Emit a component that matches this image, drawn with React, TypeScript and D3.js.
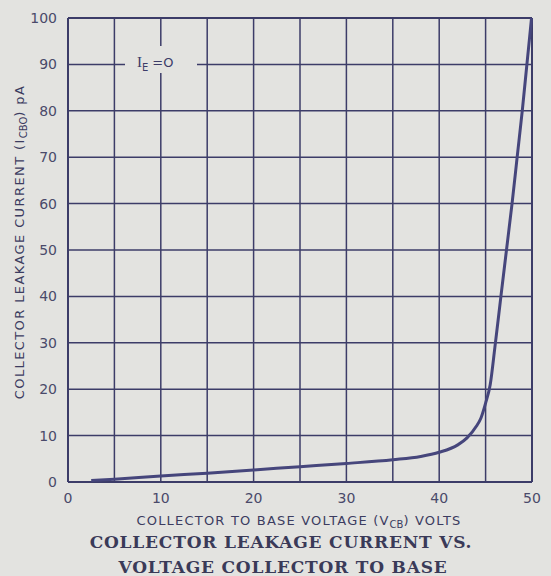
import React, { useEffect, useRef } from 'react'
import * as d3 from 'd3'

// values
const voltage = [2.5, 5, 10, 15, 20, 25, 30, 35, 38, 40, 42, 43, 44, 44.5, 45, 45.5, 46, 46.65, 47.25, 47.85, 48.4, 48.95, 49.45, 49.95]
const leakage = [0.3, 0.6, 1.3, 1.9, 2.6, 3.3, 4.0, 4.8, 5.5, 6.4, 8, 9.5, 12, 13.8, 17, 21, 29, 40, 50, 60, 70, 80, 90, 100]
const xTicks = [0, 10, 20, 30, 40, 50]
const yTicks = [0, 10, 20, 30, 40, 50, 60, 70, 80, 90, 100]
const xGrid = d3.range(0, 51, 5)
const yGrid = d3.range(0, 101, 10)

export default function App() {
  const ref = useRef<HTMLDivElement | null>(null)

  useEffect(() => {
    const container = d3.select(ref.current!)
    container.selectAll('*').remove()
    const width = 551
    const height = 576
    const margin = { top: 18, right: 19, bottom: 94, left: 68 }
    const ink = '#3c3c68'
    const svg = container.append('svg').attr('width', width).attr('height', height)
      .style('display', 'block').style('position', 'absolute').style('left', 0).style('top', 0)

    svg.append('rect').attr('width', width).attr('height', height).attr('fill', '#e3e3e0')

    const x = d3.scaleLinear().domain([0, 50]).range([margin.left, width - margin.right])
    const y = d3.scaleLinear().domain([0, 100]).range([height - margin.bottom, margin.top])

    const g = svg.append('g')
    g.append('g').selectAll('line').data(xGrid).enter().append('line')
      .attr('x1', d => x(d)).attr('x2', d => x(d)).attr('y1', y(0)).attr('y2', y(100))
      .attr('stroke', ink).attr('stroke-width', d => (d === 0 || d === 50) ? 2 : 1.5)
    g.append('g').selectAll('line').data(yGrid).enter().append('line')
      .attr('y1', d => y(d)).attr('y2', d => y(d)).attr('x1', x(0)).attr('x2', x(50))
      .attr('stroke', ink).attr('stroke-width', d => (d === 0 || d === 100) ? 2 : 1.5)

    // gap in the grid behind the I_E label
    g.append('rect').attr('x', 125).attr('y', 46).attr('width', 72).attr('height', 27).attr('fill', '#e3e3e0')
    const lbl = g.append('text').attr('x', 137).attr('y', 67).attr('fill', ink)
      .attr('font-family', 'Liberation Serif, serif').attr('font-size', 15)
    lbl.append('tspan').text('I')
    lbl.append('tspan').attr('font-size', 10).attr('dy', 4).attr('font-family', 'DejaVu Sans, sans-serif').text('E')
    lbl.append('tspan').attr('dy', -4).attr('dx', 4).attr('font-family', 'DejaVu Sans, sans-serif').attr('font-size', 13).text('=O')

    const pts = voltage.map((v, i) => [v, leakage[i]] as [number, number])
    const line = d3.line<[number, number]>().x(d => x(d[0])).y(d => y(d[1])).curve(d3.curveMonotoneX)
    g.append('path').attr('d', line(pts)).attr('fill', 'none').attr('stroke', '#46467c').attr('stroke-width', 3)

    const tickFont = 'DejaVu Sans, sans-serif'
    g.append('g').selectAll('text').data(yTicks).enter().append('text')
      .attr('x', 57).attr('y', d => y(d)).attr('dy', '0.35em').attr('text-anchor', 'end')
      .attr('font-family', tickFont).attr('font-size', 14).attr('fill', '#4a4a6a').text(d => String(d))
    g.append('g').selectAll('text').data(xTicks).enter().append('text')
      .attr('x', d => x(d)).attr('y', 503).attr('text-anchor', 'middle')
      .attr('font-family', tickFont).attr('font-size', 14).attr('fill', '#4a4a6a').text(d => String(d))

    const xl = svg.append('text').attr('x', 299).attr('y', 525).attr('text-anchor', 'middle')
      .attr('font-family', tickFont).attr('font-size', 13).attr('letter-spacing', 1.2).attr('fill', '#3c3c60')
    xl.append('tspan').text('COLLECTOR TO BASE VOLTAGE (V')
    xl.append('tspan').attr('font-size', 10).attr('dy', 3).attr('letter-spacing', 0).text('CB')
    xl.append('tspan').attr('dy', -3).text(') VOLTS')

    const yl = svg.append('text').attr('transform', 'translate(24,242) rotate(-90)').attr('text-anchor', 'middle')
      .attr('font-family', tickFont).attr('font-size', 13).attr('letter-spacing', 1.4).attr('fill', '#3c3c60')
    yl.append('tspan').text('COLLECTOR LEAKAGE CURRENT (I')
    yl.append('tspan').attr('font-size', 10).attr('dy', 3).attr('letter-spacing', 0).text('CBO')
    yl.append('tspan').attr('dy', -3).text(')  pA')

    const titleFont = 'DejaVu Serif, serif'
    svg.append('text').attr('x', 281).attr('y', 548).attr('text-anchor', 'middle')
      .attr('font-family', titleFont).attr('font-weight', 700).attr('font-size', 17).attr('letter-spacing', 0.8).attr('fill', '#3a3a58')
      .text('COLLECTOR LEAKAGE CURRENT VS.')
    svg.append('text').attr('x', 283).attr('y', 573).attr('text-anchor', 'middle')
      .attr('font-family', titleFont).attr('font-weight', 700).attr('font-size', 17).attr('letter-spacing', 0.8).attr('fill', '#3a3a58')
      .text('VOLTAGE COLLECTOR TO BASE')
  }, [])

  return <div ref={ref} />
}
